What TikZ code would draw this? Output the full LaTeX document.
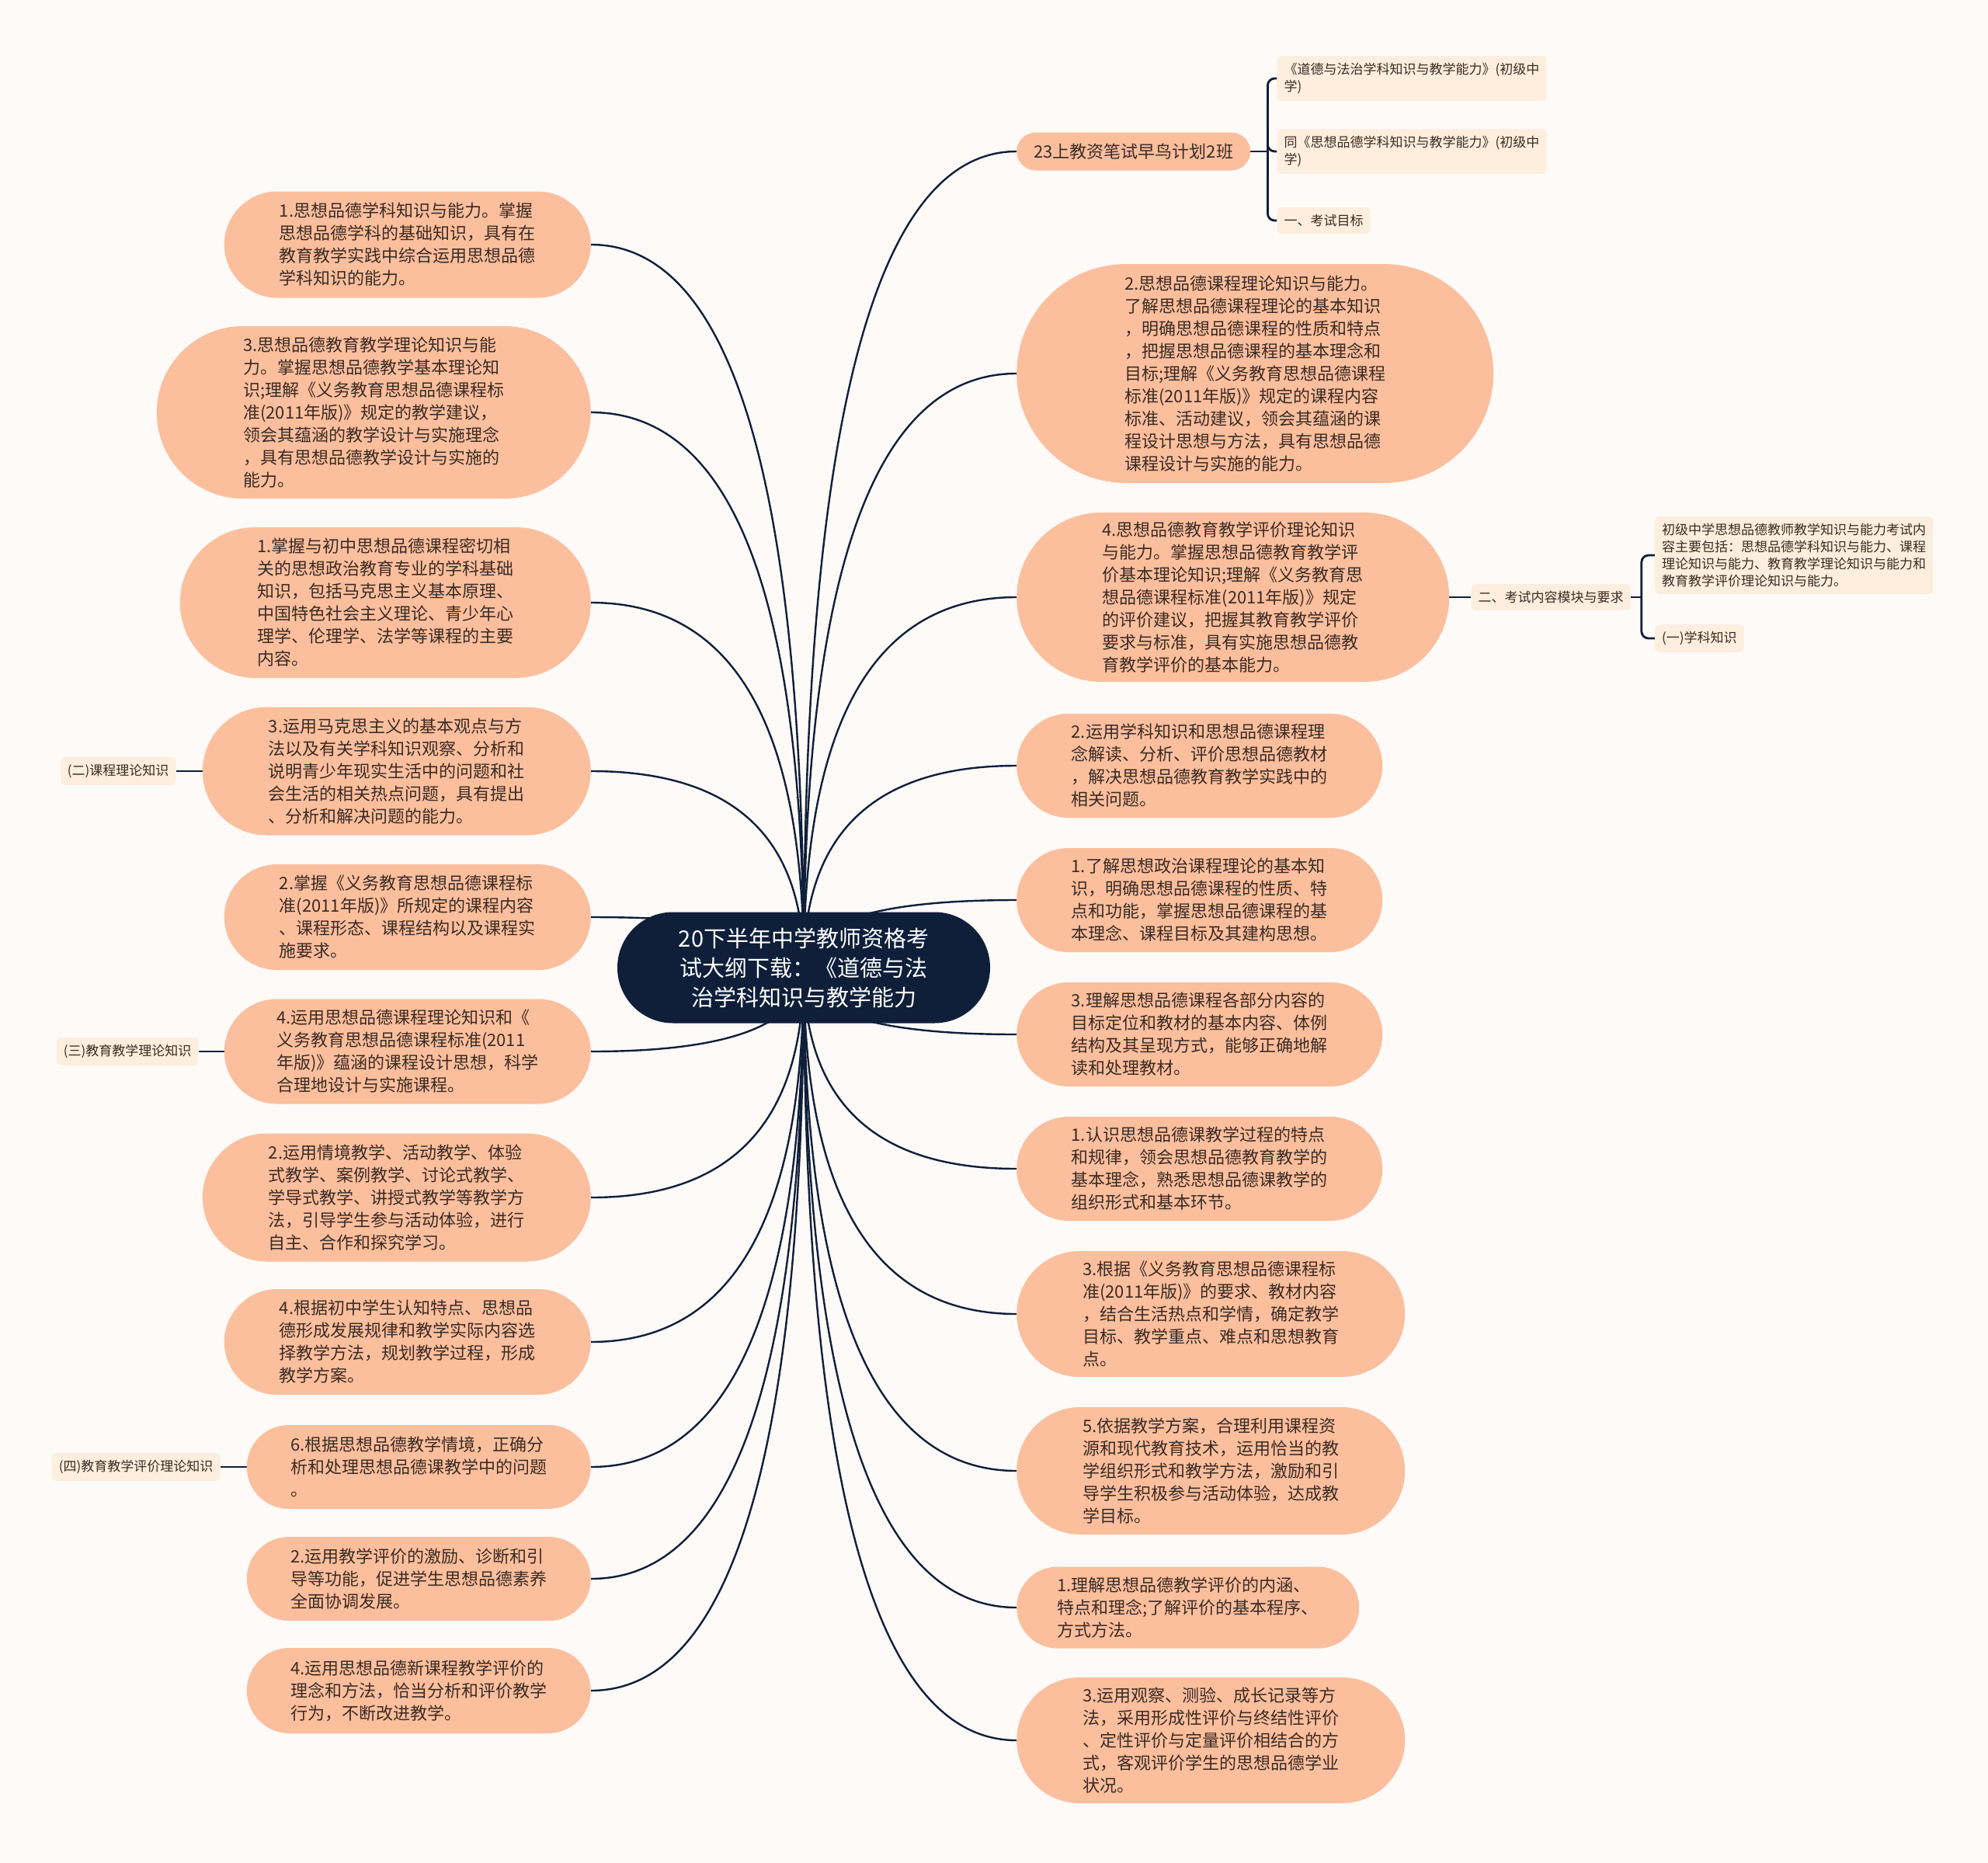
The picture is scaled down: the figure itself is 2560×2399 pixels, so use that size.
\documentclass[tikz,border=0pt]{standalone}
\usepackage{fontspec}
\usepackage{xcolor}
\usepackage{tikz}
\usetikzlibrary{positioning,shapes.misc,calc,backgrounds}
\newfontfamily\zhfont{Noto Sans CJK SC}
\definecolor{navy}{HTML}{0F1F3A}
\definecolor{peach}{HTML}{FCBF9D}
\definecolor{cream}{HTML}{FDEEDD}
\definecolor{paper}{HTML}{FEFAF8}
\definecolor{ink}{HTML}{3A2B24}

\begin{document}
\begin{tikzpicture}[
  x=1pt,y=-1pt,
  rootnode/.style={rounded rectangle,fill=navy,text=white,align=center,inner sep=0pt,minimum width=480pt,minimum height=143pt,font=\zhfont\fontsize{29pt}{38pt}\selectfont},
  topic/.style 2 args={rounded rectangle,fill=peach,text=ink,align=left,inner sep=0pt,minimum width=#1pt,minimum height=#2pt,font=\zhfont\fontsize{22pt}{29pt}\selectfont},
  leaf/.style={rectangle,rounded corners=6pt,fill=cream,text=ink,align=left,inner xsep=9pt,inner ysep=9pt,font=\zhfont\fontsize{17pt}{22pt}\selectfont},
  spoke/.style={line width=2.4pt,draw=navy},
  tie/.style={line width=2.8pt,draw=navy,rounded corners=9pt}
]
\useasboundingbox (0,0) rectangle (2560,2399);
\node[rootnode] (root) at (1035,1246) {20下半年中学教师资格考\\试大纲下载：《道德与法\\治学科知识与教学能力};

% right side
\node[topic={301}{49},anchor=west] (r0) at (1309,195) {23上教资笔试早鸟计划2班};
\node[topic={614}{282},anchor=west] (r1) at (1309,481) {2.思想品德课程理论知识与能力。\\了解思想品德课程理论的基本知识\\，明确思想品德课程的性质和特点\\，把握思想品德课程的基本理念和\\目标;理解《义务教育思想品德课程\\标准(2011年版)》规定的课程内容\\标准、活动建议，领会其蕴涵的课\\程设计思想与方法，具有思想品德\\课程设计与实施的能力。};
\node[topic={557}{218},anchor=west] (r2) at (1309,769) {4.思想品德教育教学评价理论知识\\与能力。掌握思想品德教育教学评\\价基本理论知识;理解《义务教育思\\想品德课程标准(2011年版)》规定\\的评价建议，把握其教育教学评价\\要求与标准，具有实施思想品德教\\育教学评价的基本能力。};
\node[topic={471}{134},anchor=west] (r3) at (1309,986) {2.运用学科知识和思想品德课程理\\念解读、分析、评价思想品德教材\\，解决思想品德教育教学实践中的\\相关问题。};
\node[topic={471}{134},anchor=west] (r4) at (1309,1159) {1.了解思想政治课程理论的基本知\\识，明确思想品德课程的性质、特\\点和功能，掌握思想品德课程的基\\本理念、课程目标及其建构思想。};
\node[topic={471}{134},anchor=west] (r5) at (1309,1332) {3.理解思想品德课程各部分内容的\\目标定位和教材的基本内容、体例\\结构及其呈现方式，能够正确地解\\读和处理教材。};
\node[topic={471}{134},anchor=west] (r6) at (1309,1505) {1.认识思想品德课教学过程的特点\\和规律，领会思想品德教育教学的\\基本理念，熟悉思想品德课教学的\\组织形式和基本环节。};
\node[topic={500}{162},anchor=west] (r7) at (1309,1692) {3.根据《义务教育思想品德课程标\\准(2011年版)》的要求、教材内容\\，结合生活热点和学情，确定教学\\目标、教学重点、难点和思想教育\\点。};
\node[topic={500}{164},anchor=west] (r8) at (1309,1894) {5.依据教学方案，合理利用课程资\\源和现代教育技术，运用恰当的教\\学组织形式和教学方法，激励和引\\导学生积极参与活动体验，达成教\\学目标。};
\node[topic={441}{105},anchor=west] (r9) at (1309,2070) {1.理解思想品德教学评价的内涵、\\特点和理念;了解评价的基本程序、\\方式方法。};
\node[topic={500}{162},anchor=west] (r10) at (1309,2241) {3.运用观察、测验、成长记录等方\\法，采用形成性评价与终结性评价\\、定性评价与定量评价相结合的方\\式，客观评价学生的思想品德学业\\状况。};

% left side
\node[topic={472}{137},anchor=east] (l1) at (761,315) {1.思想品德学科知识与能力。掌握\\思想品德学科的基础知识，具有在\\教育教学实践中综合运用思想品德\\学科知识的能力。};
\node[topic={559}{222},anchor=east] (l2) at (761,531) {3.思想品德教育教学理论知识与能\\力。掌握思想品德教学基本理论知\\识;理解《义务教育思想品德课程标\\准(2011年版)》规定的教学建议，\\领会其蕴涵的教学设计与实施理念\\，具有思想品德教学设计与实施的\\能力。};
\node[topic={529}{194},anchor=east] (l3) at (761,776) {1.掌握与初中思想品德课程密切相\\关的思想政治教育专业的学科基础\\知识，包括马克思主义基本原理、\\中国特色社会主义理论、青少年心\\理学、伦理学、法学等课程的主要\\内容。};
\node[topic={500}{165},anchor=east] (l4) at (761,993) {3.运用马克思主义的基本观点与方\\法以及有关学科知识观察、分析和\\说明青少年现实生活中的问题和社\\会生活的相关热点问题，具有提出\\、分析和解决问题的能力。};
\node[topic={472}{136},anchor=east] (l5) at (761,1181) {2.掌握《义务教育思想品德课程标\\准(2011年版)》所规定的课程内容\\、课程形态、课程结构以及课程实\\施要求。};
\node[topic={472}{135},anchor=east] (l6) at (761,1354) {4.运用思想品德课程理论知识和《\\义务教育思想品德课程标准(2011\\年版)》蕴涵的课程设计思想，科学\\合理地设计与实施课程。};
\node[topic={500}{165},anchor=east] (l7) at (761,1542) {2.运用情境教学、活动教学、体验\\式教学、案例教学、讨论式教学、\\学导式教学、讲授式教学等教学方\\法，引导学生参与活动体验，进行\\自主、合作和探究学习。};
\node[topic={472}{136},anchor=east] (l8) at (761,1728) {4.根据初中学生认知特点、思想品\\德形成发展规律和教学实际内容选\\择教学方法，规划教学过程，形成\\教学方案。};
\node[topic={443}{108},anchor=east] (l9) at (761,1889) {6.根据思想品德教学情境，正确分\\析和处理思想品德课教学中的问题\\。};
\node[topic={443}{108},anchor=east] (l10) at (761,2033) {2.运用教学评价的激励、诊断和引\\导等功能，促进学生思想品德素养\\全面协调发展。};
\node[topic={443}{110},anchor=east] (l11) at (761,2177) {4.运用思想品德新课程教学评价的\\理念和方法，恰当分析和评价教学\\行为，不断改进教学。};

% small leaves
\node[leaf,right=34pt of r0] (c2) {同《思想品德学科知识与教学能力》(初级中\\学)};
\node[leaf,anchor=west] (c1) at (c2.west |- 0,101) {《道德与法治学科知识与教学能力》(初级中\\学)};
\node[leaf,anchor=west] (c3) at (c2.west |- 0,284) {一、考试目标};
\node[leaf,right=28pt of r2] (c4) {二、考试内容模块与要求};
\node[leaf,anchor=west] (c5) at (2131,715) {初级中学思想品德教师教学知识与能力考试内\\容主要包括：思想品德学科知识与能力、课程\\理论知识与能力、教育教学理论知识与能力和\\教育教学评价理论知识与能力。};
\node[leaf,anchor=west] (c6) at (2131,822) {(一)学科知识};
\node[leaf,left=34pt of l4] (c7) {(二)课程理论知识};
\node[leaf,left=33pt of l6] (c8) {(三)教育教学理论知识};
\node[leaf,left=34pt of l9] (c9) {(四)教育教学评价理论知识};

\begin{scope}[on background layer]
\fill[paper] (0,0) rectangle (2560,2399);
\foreach \n in {r0,r1,r2,r3,r4,r5,r6,r7,r8,r9,r10}{
  \coordinate (k) at (root.center |- \n.west);
  \draw[spoke] (root.center) .. controls ($(root.center)!.667!(k)$) and ($(\n.west)!.667!(k)$) .. (\n.west);
}
\foreach \n in {l1,l2,l3,l4,l5,l6,l7,l8,l9,l10,l11}{
  \coordinate (k) at (root.center |- \n.east);
  \draw[spoke] (root.center) .. controls ($(root.center)!.667!(k)$) and ($(\n.east)!.667!(k)$) .. (\n.east);
}
\coordinate (r0j) at ([xshift=22pt]r0.east);
\coordinate (c4j) at ([xshift=14pt]c4.east);
\draw[tie] (r0.east) -- (r0j);
\draw[tie] (r0j) |- (c1.west);
\draw[tie] (r0j) |- (c2.west);
\draw[tie] (r0j) |- (c3.west);
\draw[tie] (r2.east) -- (c4.west);
\draw[tie] (c4.east) -- (c4j);
\draw[tie] (c4j) |- (c5.west);
\draw[tie] (c4j) |- (c6.west);
\draw[tie] (l4.west) -- (c7.east);
\draw[tie] (l6.west) -- (c8.east);
\draw[tie] (l9.west) -- (c9.east);
\end{scope}
\end{tikzpicture}
\end{document}
